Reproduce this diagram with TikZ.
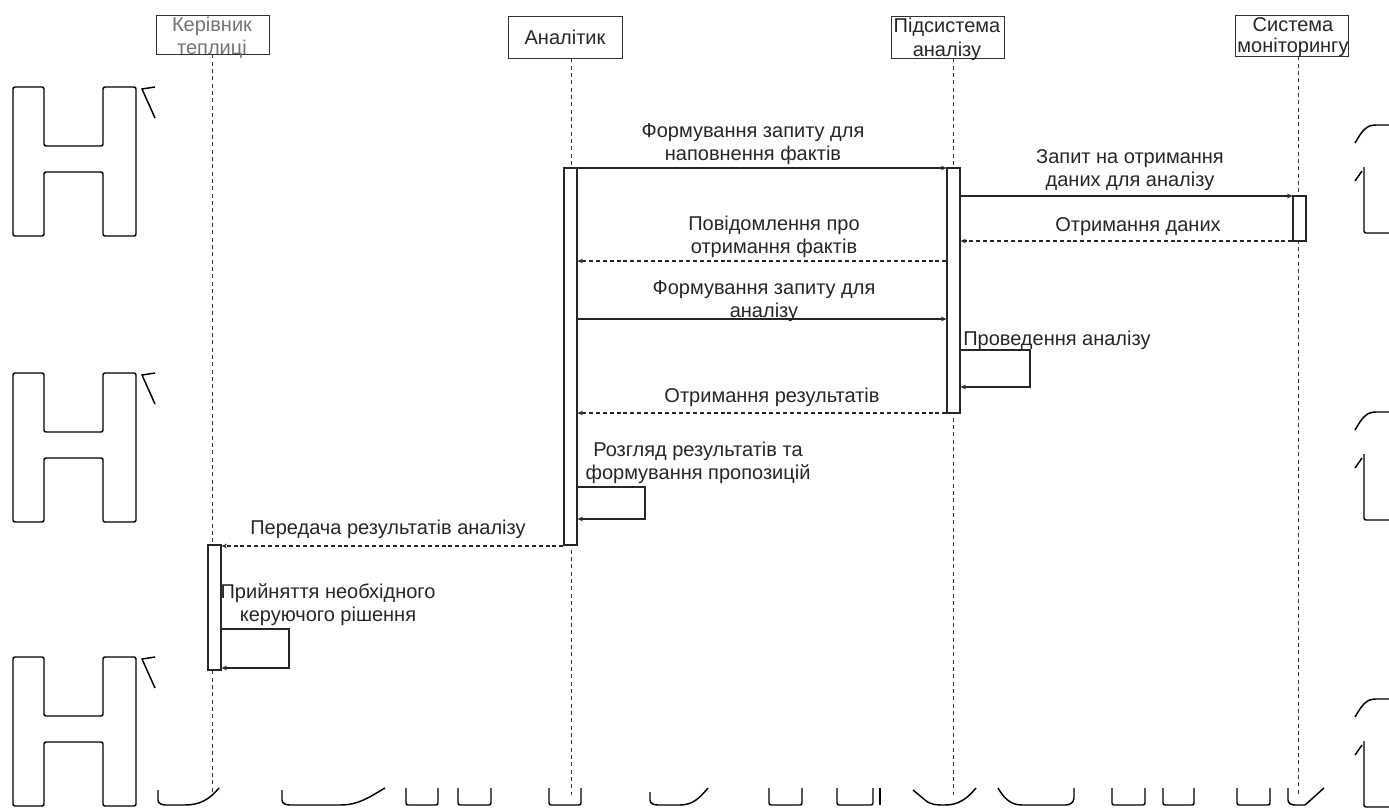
\documentclass[tikz,border=0pt]{standalone}
\usepackage{fontspec}
\setmainfont{Liberation Sans}
\usetikzlibrary{arrows.meta,fit}
\begin{document}
\begin{tikzpicture}[x=0.75pt,y=-0.75pt,
  every node/.style={font=\fontsize{15}{17.25}\selectfont, text=black!85},
  hdrbox/.style={draw=black!80, line width=0.6pt, inner sep=0pt},
  lifeline/.style={draw=black!80, line width=0.5pt, dash pattern=on 3pt off 2.5pt},
  actbar/.style={draw=black!85, fill=white, line width=0.9pt, inner sep=0pt},
  msg/.style={draw=black!85, line width=0.8pt, -{Stealth[length=4pt,width=3.5pt]}},
  retmsg/.style={draw=black!85, line width=0.8pt, dash pattern=on 3pt off 2.2pt, -{Stealth[length=4pt,width=3.5pt]}},
  lbl/.style={align=center, inner sep=0pt},
  ghost/.style={draw=black, line width=1.1pt, rounded corners=1.5pt}]
\useasboundingbox (0,0) rectangle (1389,807);

% ---- header boxes ----
\node[hdrbox, fit={(156,15) (269,54)}] (kbox) {};
\node[hdrbox, fit={(508,16) (622,58)}] (abox) {};
\node[hdrbox, fit={(891,16) (1004,58)}] (pbox) {};
\node[hdrbox, fit={(1235,15) (1348,56)}] (sbox) {};
\node[lbl, text=black!55] (kt1) at (212,26) {Керівник};
\node[lbl, text=black!55] (kt2) at (212,49) {теплиці};
\node[lbl] (at1) at (565,37) {Аналітик};
\node[lbl] (pt1) at (947,27) {Підсистема};
\node[lbl] (pt2) at (947,51) {аналізу};
\node[lbl] (st1) at (1293,25) {Система};
\node[lbl] (st2) at (1293,47) {моніторингу};

% ---- lifelines ----
\coordinate (kend) at (212,795);
\coordinate (aend) at (571,795);
\coordinate (pend) at (953,795);
\coordinate (send) at (1298,795);
\draw[lifeline] (kend |- kbox.south) -- (kend);
\draw[lifeline] (aend |- abox.south) -- (aend);
\draw[lifeline] (pend |- pbox.south) -- (pend);
\draw[lifeline] (send |- sbox.south) -- (send);

% ---- activation bars ----
\node[actbar, fit={(564,168) (577,545)}] (abar) {};
\node[actbar, fit={(947,168) (960,413)}] (pbar) {};
\node[actbar, fit={(1293,196) (1306,241)}] (sbar) {};
\node[actbar, fit={(208,545) (221,670)}] (kbar) {};

% ---- message levels ----
\coordinate (y1) at (0,168);
\coordinate (y2) at (0,196);
\coordinate (y3) at (0,241);
\coordinate (y4) at (0,261);
\coordinate (y5) at (0,319);
\coordinate (y6a) at (0,350);
\coordinate (y6b) at (0,387);
\coordinate (y7) at (0,413);
\coordinate (y8a) at (0,487);
\coordinate (y8b) at (0,519);
\coordinate (y9) at (0,546);
\coordinate (y10a) at (0,629);
\coordinate (y10b) at (0,668);
\coordinate (loopP) at (1030,0);
\coordinate (loopA) at (645,0);
\coordinate (loopK) at (289,0);

% ---- messages ----
\draw[msg] (abar.east |- y1) -- (pbar.west |- y1);
\node[lbl] (l1) at (753,144) {Формування запиту для\\наповнення фактів};

\draw[msg] (pbar.east |- y2) -- (sbar.west |- y2);
\node[lbl] (l2) at (1130,170) {Запит на отримання\\даних для аналізу};

\draw[retmsg] (sbar.west |- y3) -- (pbar.east |- y3);
\node[lbl] (l3) at (1138,227) {Отримання даних};

\draw[retmsg] (pbar.west |- y4) -- (abar.east |- y4);
\node[lbl] (l4) at (774,237) {Повідомлення про\\отримання фактів};

\draw[msg] (abar.east |- y5) -- (pbar.west |- y5);
\node[lbl] (l5) at (764,301) {Формування запиту для\\аналізу};

\draw[msg] (pbar.east |- y6a) -- (loopP |- y6a) -- (loopP |- y6b) -- (pbar.east |- y6b);
\node[lbl, anchor=west] (l6) at (963,340) {Проведення аналізу};

\draw[retmsg] (pbar.west |- y7) -- (abar.east |- y7);
\node[lbl] (l7) at (772,397) {Отримання результатів};

\draw[msg] (abar.east |- y8a) -- (loopA |- y8a) -- (loopA |- y8b) -- (abar.east |- y8b);
\node[lbl] (l8) at (698,463) {Розгляд результатів та\\формування пропозицій};

\draw[retmsg] (abar.west |- y9) -- (kbar.east |- y9);
\node[lbl] (l9) at (388,529) {Передача результатів аналізу};

\draw[msg] (kbar.east |- y10a) -- (loopK |- y10a) -- (loopK |- y10b) -- (kbar.east |- y10b);
\node[lbl] (l10) at (328,605) {Прийняття необхідного\\керуючого рішення};

% ---- stray outline glyphs (left) ----
\foreach \yy in {87,373,657}{
  \draw[ghost] (13,\yy) -- (44,\yy) -- (44,\yy+59) -- (103,\yy+59) -- (103,\yy) -- (136,\yy)
     -- (136,\yy+149) -- (103,\yy+149) -- (103,\yy+85) -- (44,\yy+85) -- (44,\yy+149) -- (13,\yy+149) -- cycle;
  \draw[draw=black, line width=1.1pt] (155,\yy) -- (142,\yy+2) -- (155,\yy+31);
}
% ---- stray outline glyphs (right) ----
\foreach \yy in {125,412,699}{
  \draw[draw=black, line width=1.1pt] (1355,\yy+18) .. controls (1362,\yy+6) and (1366,\yy) .. (1376,\yy) -- (1389,\yy);
  \draw[draw=black, line width=1.1pt] (1355,\yy+56) -- (1362,\yy+46);
  \draw[ghost] (1364,\yy+42) -- (1364,\yy+108) -- (1389,\yy+108);
}
% ---- stray outline glyphs (bottom) ----
\foreach \xa/\xb in {406/438,458/491,549/581,769/802,837/873,1112/1145,1163/1194,1237/1270}{
  \draw[ghost] (\xa,788) -- (\xa,805) -- (\xb,805) -- (\xb,788);
}
\draw[ghost] (880,788) -- (880,805);
\draw[draw=black, line width=1.1pt] (158,790) -- (158,800) to[out=-90,in=180] (166,805) -- (185,805) to[out=0,in=-130] (219,788);
\draw[draw=black, line width=1.1pt] (282,790) -- (282,800) to[out=-90,in=180] (290,805) -- (340,805) to[out=0,in=-150] (385,788);
\draw[draw=black, line width=1.1pt] (650,792) -- (650,800) to[out=-90,in=180] (658,805) -- (680,805) to[out=0,in=-130] (708,788);
\draw[draw=black, line width=1.1pt] (913,790) -- (925,800) to[out=-40,in=180] (945,805) to[out=0,in=-130] (976,788);
\draw[draw=black, line width=1.1pt] (998,788) to[out=-60,in=180] (1022,805) -- (1066,805) to[out=0,in=-90] (1074,798) -- (1074,788);
\draw[draw=black, line width=1.1pt] (1288,788) -- (1288,800) to[out=-90,in=180] (1295,805) -- (1305,805) -- (1324,788);
\end{tikzpicture}
\end{document}
